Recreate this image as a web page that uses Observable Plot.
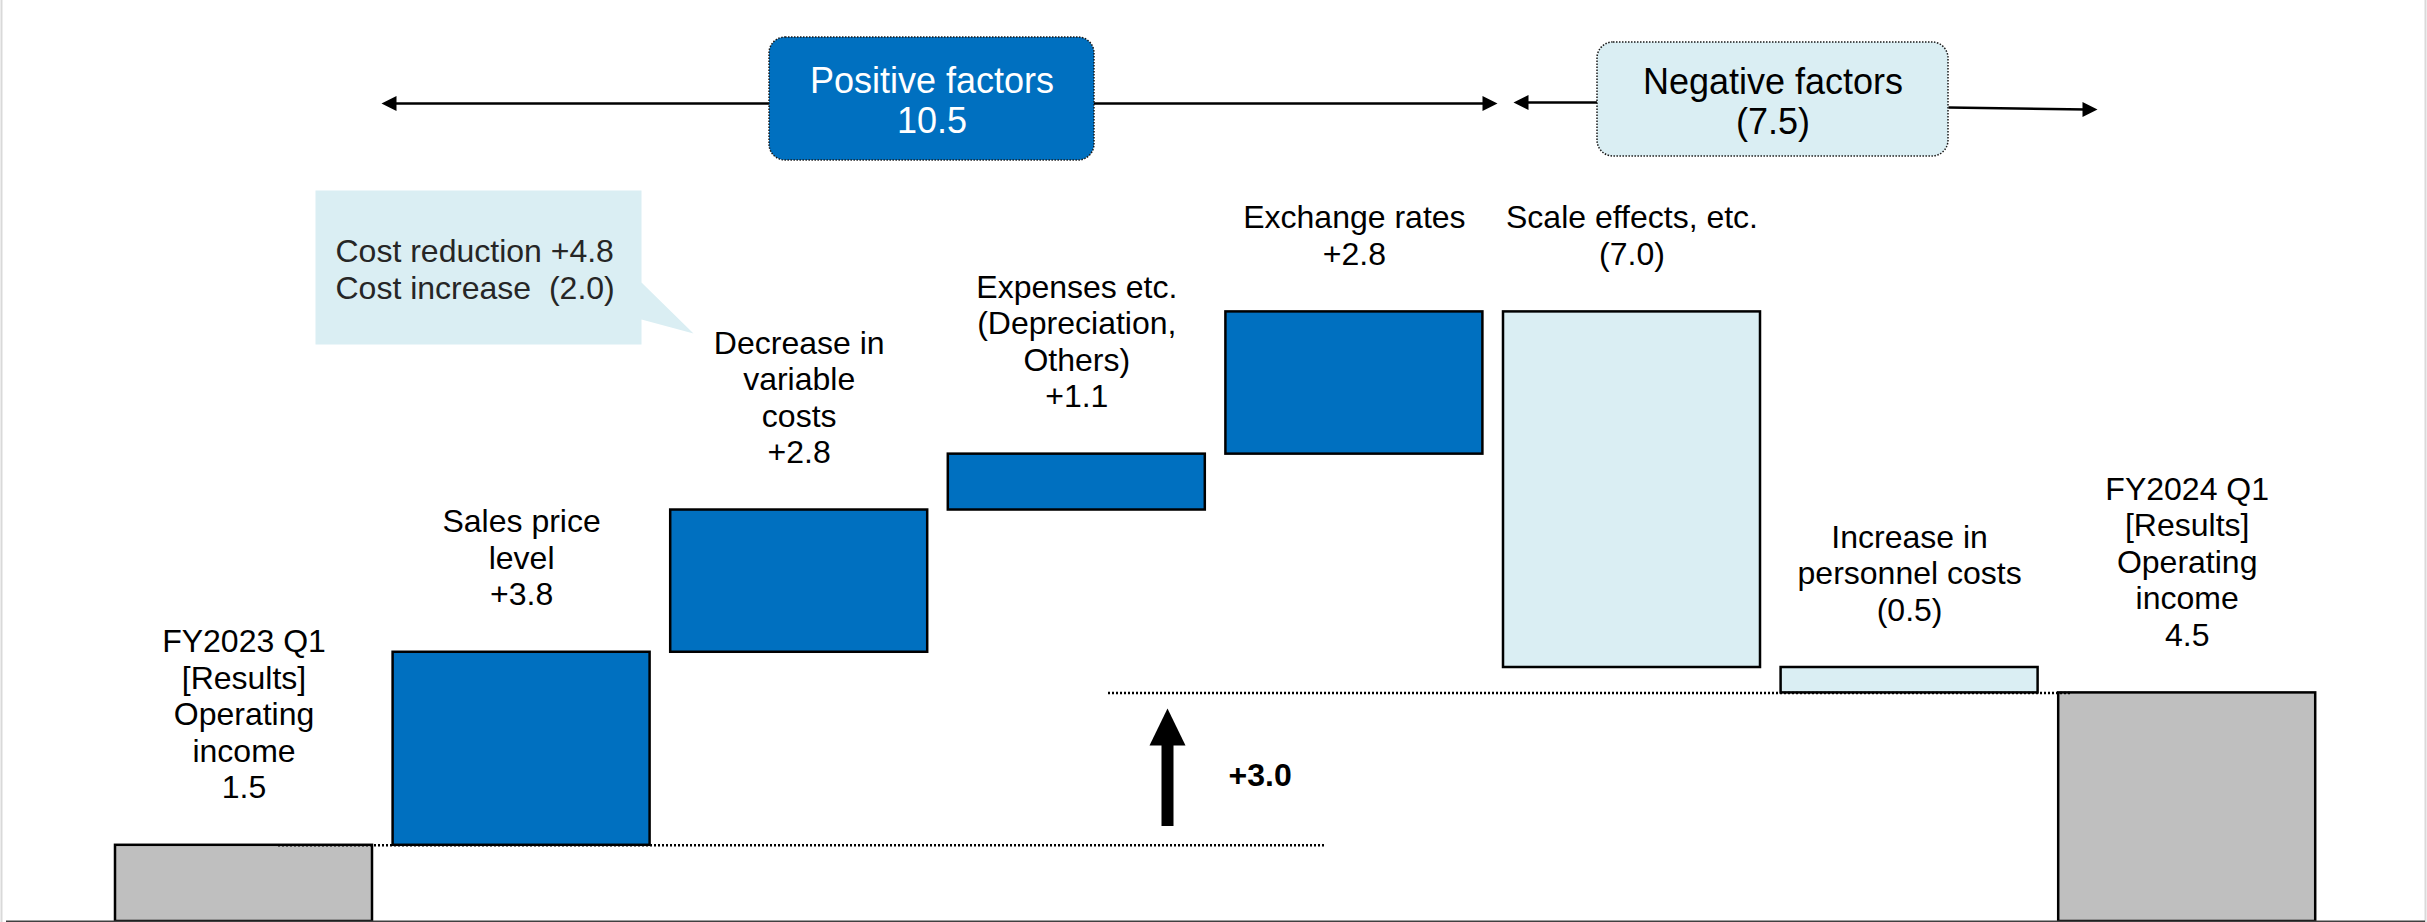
<!DOCTYPE html>
<html><head><meta charset="utf-8">
<script src="https://cdn.jsdelivr.net/npm/d3@7"></script>
<script src="https://cdn.jsdelivr.net/npm/@observablehq/plot@0.6"></script>
<style>
html,body{margin:0;padding:0;background:#fff;}
#chart svg{display:block;}
</style></head><body><div id="chart"></div>
<script>
// ---- data ----
const categories = [
  "FY2023 Q1\n[Results]\nOperating\nincome",
  "Sales price\nlevel",
  "Decrease in\nvariable\ncosts",
  "Expenses etc.\n(Depreciation,\nOthers)",
  "Exchange rates",
  "Scale effects, etc.",
  "Increase in\npersonnel costs",
  "FY2024 Q1\n[Results]\nOperating\nincome"
];
const values = [1.5, 3.8, 2.8, 1.1, 2.8, -7.0, -0.5, 4.5];
const kinds = ["total", "pos", "pos", "pos", "pos", "neg", "neg", "total"];
const costLabels = ["Cost reduction", "Cost increase\u00a0"];
const costValues = [4.8, -2.0];
const groupTitles = ["Positive factors", "Negative factors"];

// ---- helpers ----
const fmt = (v, k) => k === "total" ? v.toFixed(1) : (v < 0 ? `(${Math.abs(v).toFixed(1)})` : `+${v.toFixed(1)}`);
const colors = {total: "#BFBFBF", pos: "#0070C0", neg: "#DAEEF3"};

let run = 0;
const bars = categories.map((c, i) => {
  const v = values[i];
  let a, b;
  if (kinds[i] === "total") { a = 0; b = v; run = v; }
  else { a = run; b = run + v; run = b; }
  return {i, kind: kinds[i], y1: Math.min(a, b), y2: Math.max(a, b), label: c + "\n" + fmt(v, kinds[i])};
});
const posSum = d3.sum(values.filter((v, i) => kinds[i] === "pos"));
const negSum = d3.sum(values.filter((v, i) => kinds[i] === "neg"));
const startVal = values[0], endVal = values[values.length - 1];

// layout (pixel geometry converted into scale units)
const X0 = 243.5, XSTEP = 277.6, Y0 = 921, YK = 50.8;
const W = 2427, H = 922;
const px = p => (p - X0) / XSTEP;
const py = p => (Y0 - p) / YK;
const hb = 128.5 / XSTEP;

function tri(id, pts) { return pts.map(([x, y]) => ({id, x: px(x), y: py(y)})); }
function head(id, tx, ty, dir, len = 15, hw = 7.5) {
  return tri(id, [[tx, ty], [tx - dir * len, ty - hw], [tx - dir * len, ty + hw]]);
}

const callout = tri("c", [[315, 190], [641, 190], [641, 282], [693, 333], [641, 319], [641, 344], [315, 344], [315, 190]]);
const heads = [
  ...head("h1", 381, 103, -1),
  ...head("h2", 1497, 103, 1),
  ...head("h3", 1513, 102, -1),
  ...head("h4", 2097, 109, 1),
  ...tri("big", [[1167, 708], [1149, 745], [1185, 745]])
];
const arrowLines = [
  {x1: px(390), y1: py(103), x2: px(1486), y2: py(103)},
  {x1: px(1522), y1: py(102), x2: px(1597), y2: py(102)},
  {x1: px(1948), y1: py(107), x2: px(2086), y2: py(109)}
];
const boxes = [
  {x1: px(769), x2: px(1094), y1: py(160), y2: py(37), cx: px(931.5), cy: py(100),
   text: groupTitles[0] + "\n" + posSum.toFixed(1), fill: "#0070C0", color: "#fff"},
  {x1: px(1597), x2: px(1948), y1: py(156), y2: py(42), cx: px(1772.5), cy: py(101),
   text: groupTitles[1] + "\n(" + Math.abs(negSum).toFixed(1) + ")", fill: "#DAEEF3", color: "#000"}
];
const calloutText = costLabels.map((l, i) => l + " " + fmt(costValues[i], "x")).join("\n");

const FONT = "'Liberation Sans', Arial, Helvetica, sans-serif";

const chart = Plot.plot({
  width: W, height: H,
  marginTop: 0, marginRight: 0, marginBottom: 0, marginLeft: 0,
  x: {domain: [0, 7], range: [X0, X0 + 7 * XSTEP], axis: null},
  y: {domain: [0, 18], range: [Y0, Y0 - 18 * YK], axis: null},
  style: {fontFamily: FONT, background: "#fff", overflow: "visible"},
  marks: [
    // slide border
    Plot.ruleX([px(1), px(2425)], {stroke: "#d9d9d9", strokeWidth: 2}),
    // callout
    Plot.line(callout, {x: "x", y: "y", fill: "#DAEEF3", stroke: "none"}),
    Plot.text([calloutText], {x: px(335), y: py(268.5), text: d => d, textAnchor: "start", lineAnchor: "middle",
      fontSize: 32, lineHeight: 1.16, fill: "#262626"}),
    // bars
    Plot.rect(bars.filter(d => d.kind === "total"), {x1: d => d.i - hb, x2: d => d.i + hb, y1: "y1", y2: "y2", fill: colors.total, stroke: "#000", strokeWidth: 2.5}),
    Plot.rect(bars.filter(d => d.kind === "pos"), {x1: d => d.i - hb, x2: d => d.i + hb, y1: "y1", y2: "y2", fill: colors.pos, stroke: "#000", strokeWidth: 2.5}),
    Plot.rect(bars.filter(d => d.kind === "neg"), {x1: d => d.i - hb, x2: d => d.i + hb, y1: "y1", y2: "y2", fill: colors.neg, stroke: "#000", strokeWidth: 2.5}),
    // dotted reference lines
    Plot.ruleY([startVal], {x1: px(278), x2: px(1326), stroke: "#000", strokeWidth: 2.5, strokeDasharray: "2,2"}),
    Plot.ruleY([endVal], {x1: px(1108), x2: px(2071), stroke: "#000", strokeWidth: 2.5, strokeDasharray: "2,2"}),
    // big arrow
    Plot.ruleX([px(1167)], {y1: py(826), y2: py(742), stroke: "#000", strokeWidth: 12}),
    Plot.text([fmt(endVal - startVal, "x")], {x: px(1228), y: py(775), text: d => d, textAnchor: "start", fontSize: 32, fontWeight: "bold", fill: "#000"}),
    // top arrows
    Plot.link(arrowLines, {x1: "x1", y1: "y1", x2: "x2", y2: "y2", stroke: "#000", strokeWidth: 2.5}),
    Plot.line(heads, {x: "x", y: "y", z: "id", fill: "#000", stroke: "none"}),
    // group boxes
    Plot.rect(boxes, {x1: "x1", x2: "x2", y1: "y1", y2: "y2", fill: d => d.fill, rx: 16, stroke: "#1a1a1a", strokeWidth: 1.5, strokeDasharray: "1.5,1.5"}),
    Plot.text(boxes, {x: "cx", y: "cy", text: "text", fill: d => d.color, fontSize: 36, lineHeight: 1.11, lineAnchor: "middle"}),
    // bar labels
    Plot.text(bars, {x: "i", y: "y2", text: "label", lineAnchor: "bottom", dy: -47, fontSize: 32, lineHeight: 1.14, fill: "#000"}),
    // baseline
    Plot.ruleY([0], {x1: px(6), x2: px(2425), stroke: "#404040", strokeWidth: 2})
  ]
});
document.getElementById("chart").appendChild(chart);
</script>
</body></html>
